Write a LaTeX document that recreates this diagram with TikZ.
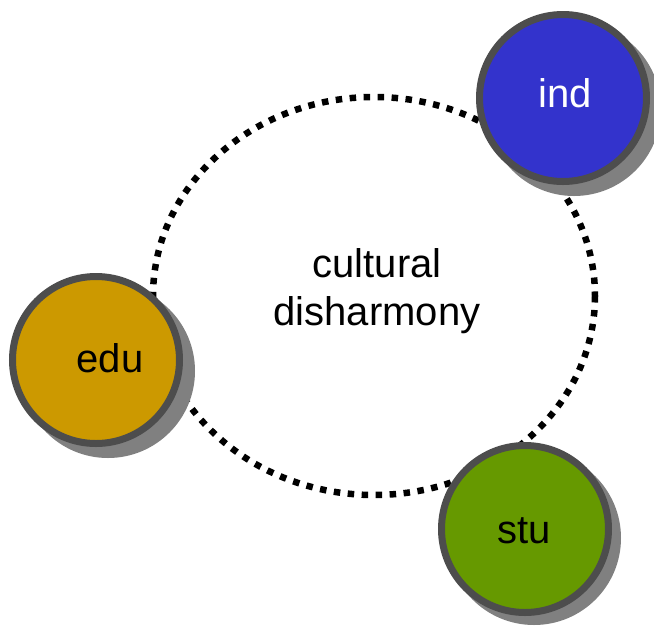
\documentclass[tikz,border=0pt]{standalone}
\usepackage{fontspec}
\setmainfont{Liberation Sans}
\definecolor{ringgray}{HTML}{4D4D4D}
\definecolor{shadowgray}{HTML}{808080}
\definecolor{eduyellow}{HTML}{CC9900}
\definecolor{indblue}{HTML}{3333CC}
\definecolor{stugreen}{HTML}{669900}
\begin{document}
\begin{tikzpicture}[x=1pt,y=-1pt,
  member/.style={circle, draw=ringgray, line width=7pt, minimum size=167pt, inner sep=0pt},
  memshadow/.style={fill=shadowgray},
  tag/.style={anchor=base, inner sep=0pt, font=\fontsize{40}{48}\selectfont},
  ring/.style={draw=black, line width=6.5pt, dash pattern=on 6.5pt off 7.5pt},
]
\useasboundingbox (0,0) rectangle (654,625);

% positions of the three members
\coordinate (pEdu) at (96,360);
\coordinate (pInd) at (563,98);
\coordinate (pStu) at (525,529);

% dotted ring and its caption
\coordinate (mid) at (374,296);
\draw[ring] (mid) ellipse [x radius=221, y radius=199];
\node[align=center, inner sep=0pt, font=\fontsize{40}{48}\selectfont] (topic) at (377,291)
  {cultural\\disharmony};

% shadows under the members
\fill[memshadow] ([xshift=12pt,yshift=-11pt]pEdu) circle [radius=87];
\fill[memshadow] ([xshift=11pt,yshift=-11pt]pInd) circle [radius=87];
\fill[memshadow] ([xshift=9pt,yshift=-9pt]pStu) circle [radius=87];

% members
\node[member, fill=eduyellow] (edu) at (pEdu) {};
\node[member, fill=indblue] (ind) at (pInd) {};
\node[member, fill=stugreen] (stu) at (pStu) {};

\node[tag] (eduText) at (110,372) {edu};
\node[tag, text=white] (indText) at (565,107) {ind};
\node[tag] (stuText) at (524.5,543) {stu};
\end{tikzpicture}
\end{document}
